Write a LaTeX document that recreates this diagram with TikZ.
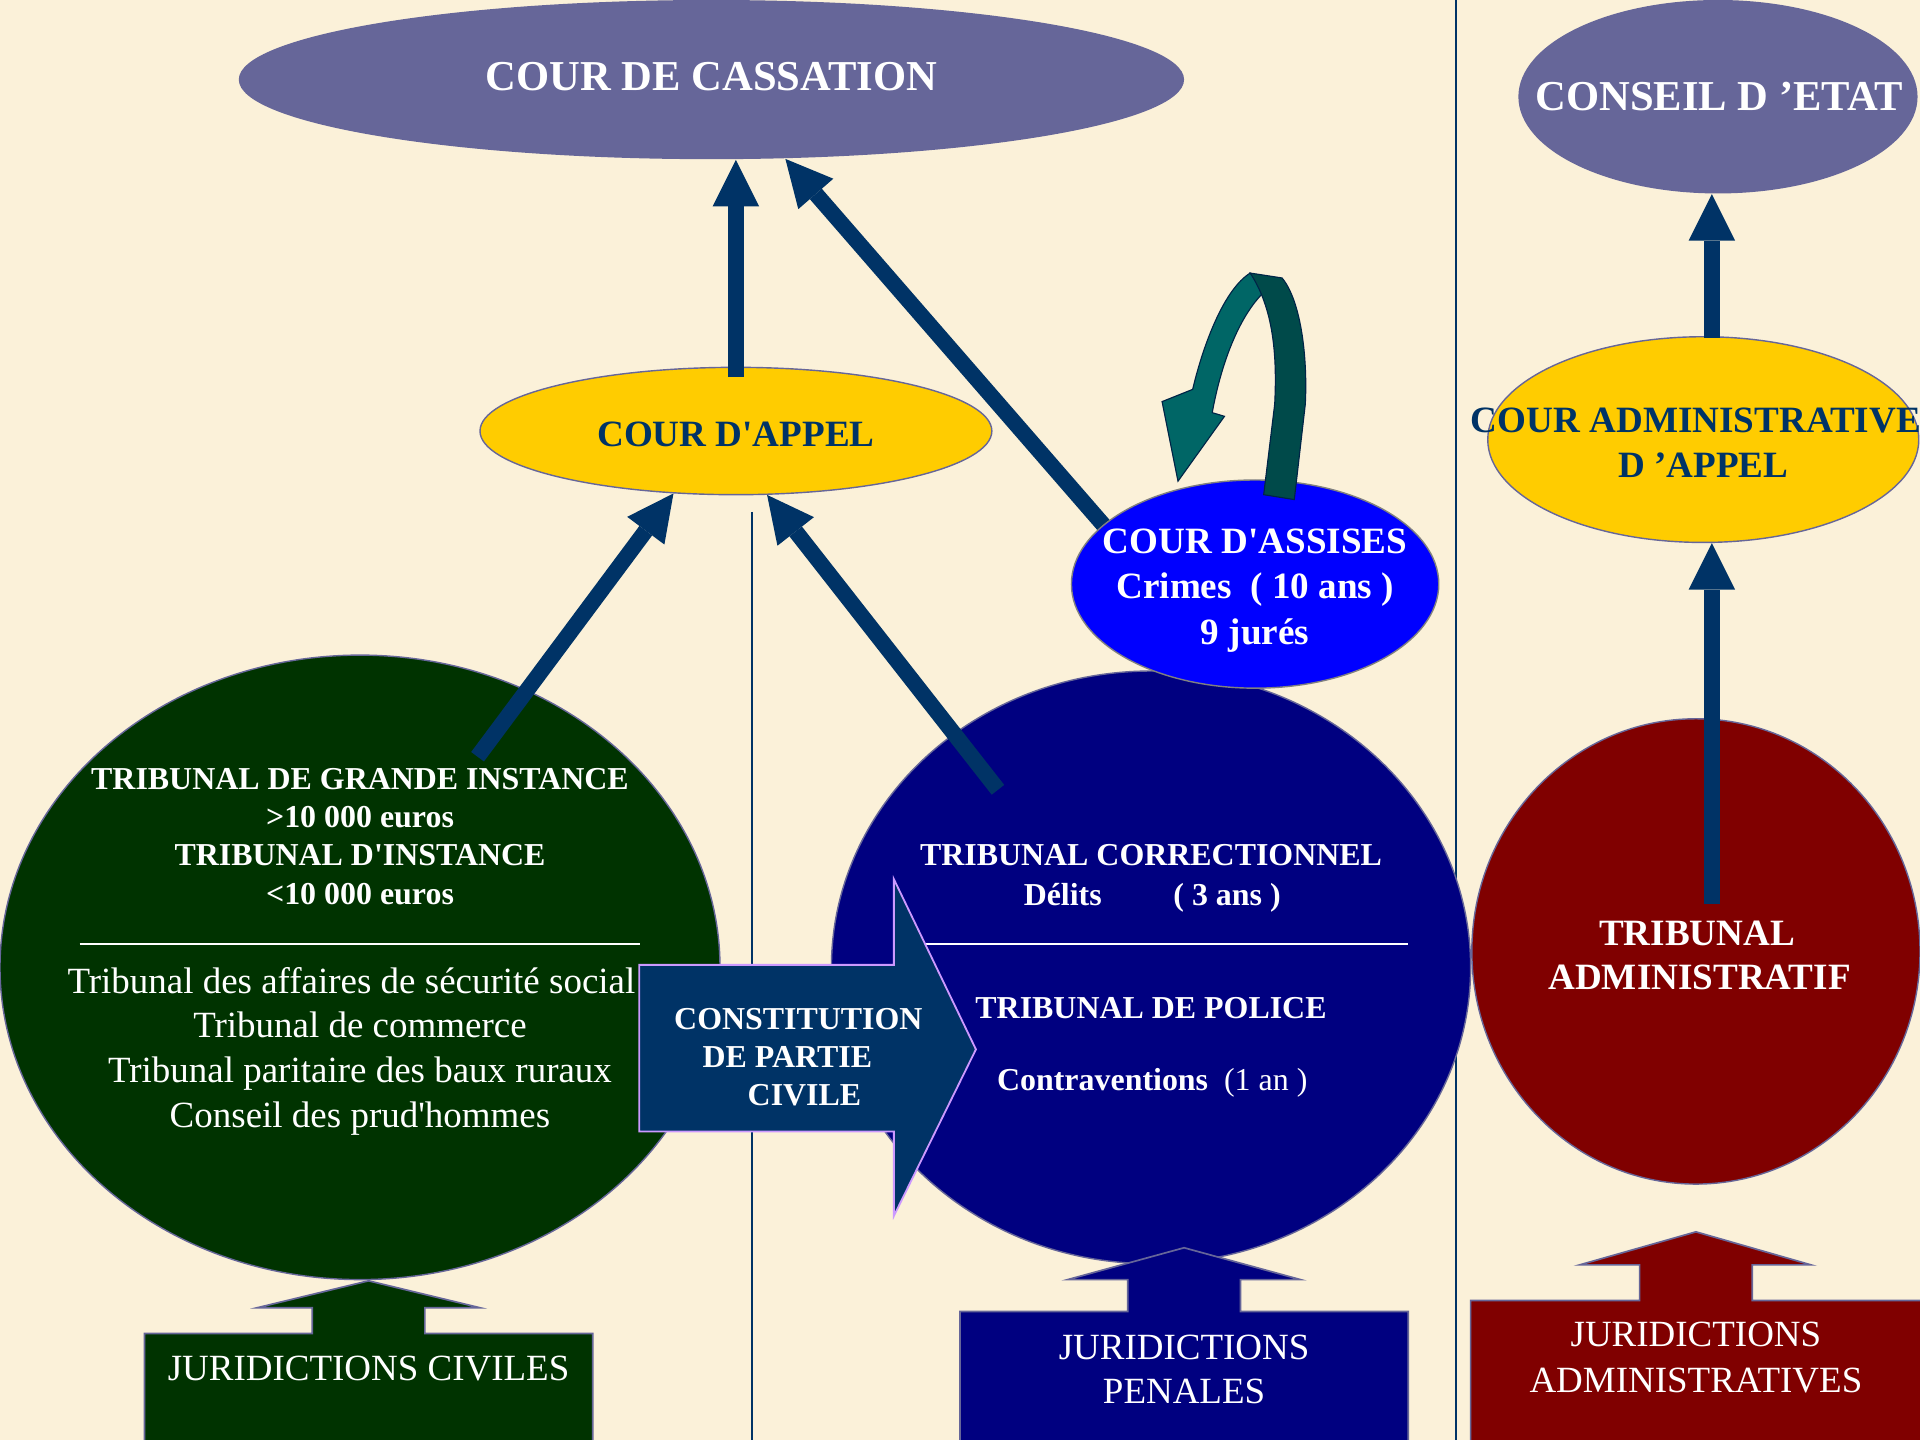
\documentclass[tikz,border=0pt]{standalone}
\usepackage{fontspec}
\setmainfont{Liberation Serif}
\usetikzlibrary{shapes.geometric,arrows.meta}
\definecolor{bgc}{HTML}{FBF1D9}
\definecolor{cassc}{HTML}{666699}
\definecolor{appelc}{HTML}{FFCC00}
\definecolor{navyarrow}{HTML}{003366}
\definecolor{greenc}{HTML}{003300}
\definecolor{penalc}{HTML}{000080}
\definecolor{redc}{HTML}{800000}
\definecolor{bluec}{HTML}{0000FF}
\definecolor{lilac}{HTML}{CC99FF}
\definecolor{tealL}{HTML}{006666}
\definecolor{tealD}{HTML}{004A4A}
\def\U{0.0306122cm}
\newcommand\myXL{\fontsize{30.3pt}{36pt}\selectfont\bfseries}
\newcommand\myL{\fontsize{26.4pt}{32pt}\selectfont\bfseries}
\newcommand\myM{\fontsize{22.7pt}{27pt}\selectfont\bfseries}
\newcommand\myR{\fontsize{26.3pt}{32pt}\selectfont}
\tikzset{
  ell/.style={shape=ellipse, inner sep=0pt, draw=cassc, line width=1pt},
  txt/.style={anchor=base, inner sep=0pt, text=white},
  bigarr/.style={draw=navyarrow, line width=11.3pt, line cap=butt,
    -{Triangle[length=33pt,width=33pt,line width=0pt]}},
  divider/.style={draw=navyarrow, line width=1pt},
  sepline/.style={draw=white, line width=1.2pt},
  blockarr/.style={draw=cassc, line width=1.2pt},
  curvepart/.style={draw=navyarrow!70!black, line width=0.8pt},
}
\begin{document}
\begin{tikzpicture}[x=\U, y=-\U]
\fill[bgc] (0,0) rectangle (1568,1176);
\useasboundingbox (0,0) rectangle (1568,1176);

% dividers
\draw[divider] (614,418) -- (614,1176);
\draw[divider] (1189,0) -- (1189,1176);

% ellipses
\node[ell, draw=none, fill=cassc, minimum width={772*\U}, minimum height={130*\U}] (cass) at (581,65) {};
\node[ell, draw=none, fill=cassc, minimum width={326*\U}, minimum height={158*\U}] (ce) at (1403,79) {};
\node[ell, fill=appelc, minimum width={418*\U}, minimum height={104*\U}] (appel) at (601,352) {};
\node[ell, fill=appelc, minimum width={352*\U}, minimum height={168*\U}] (caa) at (1391,359) {};
\node[ell, fill=greenc, minimum width={588*\U}, minimum height={510*\U}] (tgi) at (294,790) {};
\node[ell, fill=penalc, minimum width={522*\U}, minimum height={484*\U}] (penal) at (940,790) {};
\node[ell, fill=redc, minimum width={366*\U}, minimum height={380*\U}] (ta) at (1385,777) {};

% connector start points
\coordinate (appelS) at (601,308);
\coordinate (tgiS) at (390,618);
\coordinate (tcS) at (815,645);
\coordinate (caaS) at (1398,276);
\coordinate (taS) at (1398,738);
\coordinate (assS) at (904,432);

% straight arrows
\draw[bigarr] (tgiS) -- (appel.225);
\draw[bigarr] (tcS) -- (appel.-64);
\draw[bigarr] (taS) -- (taS |- caa.south);
\draw[bigarr] (appelS) -- (appelS |- cass.south);
\draw[bigarr] (caaS) -- (caaS |- ce.south);
\draw[bigarr] (assS) -- (cass.-47);

% cour d'assises
\node[ell, draw=gray, fill=bluec, minimum width={300*\U}, minimum height={170*\U}] (assises) at (1025,477) {};

% curved arrow (light part then dark part)
\filldraw[curvepart, fill=tealL]
  (1021,223) .. controls (1000,236) and (983,280) .. (974,318)
  -- (949,328) -- (962,393) -- (1000,340) -- (990,337)
  .. controls (997,298) and (1012,256) .. (1035,236) -- cycle;
\filldraw[curvepart, fill=tealD]
  (1021,223) -- (1047,227) .. controls (1062,245) and (1068,290) .. (1066,330)
  -- (1057,408) -- (1032,404) -- (1041,330)
  .. controls (1043,290) and (1040,252) .. (1021,223) -- cycle;

% texts: top level
\node[txt, font=\myXL] (cassT) at (581,74) {COUR DE CASSATION};
\node[txt, font=\myXL] (ceT) at (1404,90) {CONSEIL D ’ETAT};
\node[txt, text=navyarrow, font=\myL] (appelT) at (601,365) {COUR D\textquotesingle APPEL};
\node[txt, text=navyarrow, font=\myL] (caaT1) at (1385,353) {COUR ADMINISTRATIVE};
\node[txt, text=navyarrow, font=\myL] (caaT2) at (1391,390) {D ’APPEL};
\node[txt, font=\myL] (asT1) at (1025,452) {COUR D\textquotesingle ASSISES};
\node[txt, font=\myL] (asT2) at (1025,489) {Crimes~~( 10 ans )};
\node[txt, font=\myL] (asT3) at (1025,526) {9 jurés};

% civil ellipse
\node[txt, font=\myM] (tgiT1) at (294,644.5) {TRIBUNAL DE GRANDE INSTANCE};
\node[txt, font=\myM] (tgiT2) at (294,675.5) {>10 000 euros};
\node[txt, font=\myM] (tgiT3) at (294,706.5) {TRIBUNAL D\textquotesingle INSTANCE};
\node[txt, font=\myM] (tgiT4) at (294,738.5) {<10 000 euros};
\draw[sepline] (65,771) -- (523,771);
\node[txt, font=\myR] (civ1) at (287,811) {Tribunal des affaires de sécurité social};
\node[txt, font=\myR] (civ2) at (294,847) {Tribunal de commerce};
\node[txt, font=\myR] (civ3) at (294,884) {Tribunal paritaire des baux ruraux};
\node[txt, font=\myR] (civ4) at (294,921) {Conseil des prud\textquotesingle hommes};

% penal ellipse
\node[txt, font=\myM] (tcT1) at (940,706.5) {TRIBUNAL CORRECTIONNEL};
\node[txt, font=\myM] (tcT2) at (941,739.5) {Délits\hspace{51pt}( 3 ans )};
\draw[sepline] (745,771) -- (1150,771);
\node[txt, font=\myM] (tpT1) at (940,831.5) {TRIBUNAL DE POLICE};
\node[txt, font=\myM] (tpT2) at (941,890.5) {Contraventions~~{\mdseries(1 an )}};

% administrative tribunal
\node[txt, font=\myL] (taT1) at (1386,772) {TRIBUNAL};
\node[txt, font=\myL] (taT2) at (1388,808) {ADMINISTRATIF};

% constitution de partie civile
\filldraw[fill=navyarrow, draw=lilac, line width=1.3pt]
  (522,788) -- (730,788) -- (730,718) -- (797,857) -- (730,993) -- (730,924) -- (522,924) -- cycle;
\node[txt, font=\myM] (cpc1) at (652,840.5) {CONSTITUTION};
\node[txt, font=\myM] (cpc2) at (643,871.5) {DE PARTIE};
\node[txt, font=\myM] (cpc3) at (657,902.5) {CIVILE};

% bottom block arrows
\filldraw[blockarr, fill=greenc]
  (118,1178) -- (118,1089) -- (255,1089) -- (255,1068) -- (210,1068) -- (301,1046)
  -- (392,1068) -- (347,1068) -- (347,1089) -- (484,1089) -- (484,1178) -- cycle;
\node[txt, font=\myR] (jc) at (301,1127) {JURIDICTIONS CIVILES};

\filldraw[blockarr, fill=penalc]
  (784,1178) -- (784,1071) -- (921,1071) -- (921,1045) -- (872,1045) -- (967,1019)
  -- (1062,1045) -- (1013,1045) -- (1013,1071) -- (1150,1071) -- (1150,1178) -- cycle;
\node[txt, font=\myR] (jp1) at (967,1110) {JURIDICTIONS};
\node[txt, font=\myR] (jp2) at (967,1146) {PENALES};

\filldraw[blockarr, fill=redc]
  (1201,1178) -- (1201,1062) -- (1339,1062) -- (1339,1033) -- (1290,1033) -- (1385,1006)
  -- (1479,1033) -- (1431,1033) -- (1431,1062) -- (1570,1062) -- (1570,1178) -- cycle;
\node[txt, font=\myR] (ja1) at (1385,1100) {JURIDICTIONS};
\node[txt, font=\myR] (ja2) at (1385,1137) {ADMINISTRATIVES};
\end{tikzpicture}
\end{document}
